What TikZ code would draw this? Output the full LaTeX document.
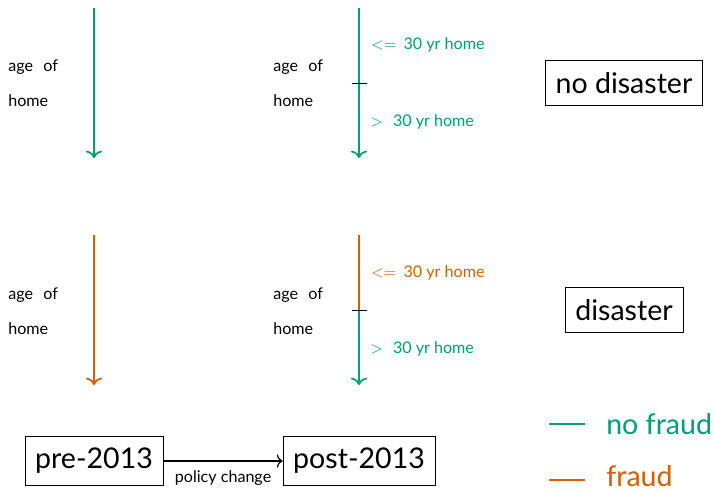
\documentclass[tikz,border=0pt]{standalone}
\usepackage{fontspec}
\setmainfont{Lato}
\usetikzlibrary{positioning, arrows.meta}

\definecolor{nofraud}{HTML}{009E73}
\definecolor{fraud}{HTML}{D55E00}

\newcommand{\bigtext}{\fontsize{19.5}{23}\selectfont}
\newcommand{\smalltext}{\fontsize{11}{13}\selectfont}

\tikzset{
  box/.style={draw, font=\bigtext, inner xsep=7pt, inner ysep=8pt},
  lbl/.style={anchor=base west, inner sep=0pt, font=\smalltext},
  flow/.style={very thick, -{To[length=5pt, width=11pt]}},
  tick/.style={thin, black},
  key/.style={anchor=west, inner sep=0pt, font=\bigtext},
}

\begin{document}
\begin{tikzpicture}[x=0.024cm, y=-0.024cm]
  \useasboundingbox (0,0) rectangle (713,491);

  % no disaster: before the change
  \coordinate (nbTop) at (94,8);
  \coordinate (nbEnd) at (94,158);
  \draw[flow, nofraud] (nbTop) -- (nbEnd);
  \node[lbl] (nbAge) at (8,72) {age\hspace{7pt}of};
  \node[lbl] (nbHome) at (8,107) {home};

  % no disaster: after the change, split at 30 years
  \coordinate (naTop) at (359,8);
  \coordinate (naMid) at (359,83);
  \coordinate (naEnd) at (359,158);
  \draw[flow, nofraud] (naTop) -- (naEnd);
  \draw[tick] (naMid) +(-7,0) -- +(8,0);
  \node[lbl] (naAge) at (273,72) {age\hspace{7pt}of};
  \node[lbl] (naHome) at (273,107) {home};
  \node[lbl, text=nofraud] (naYoung) at (371,50) {$<=$\hspace{5pt}30 yr home};
  \node[lbl, text=nofraud] (naOld) at (370,126) {$>$\hspace{7pt}30 yr home};

  \node[box] (nodis) at (624,83) {no disaster};

  % disaster: before the change
  \coordinate (dbTop) at (94,235);
  \coordinate (dbEnd) at (94,385);
  \draw[flow, fraud] (dbTop) -- (dbEnd);
  \node[lbl] (dbAge) at (8,299) {age\hspace{7pt}of};
  \node[lbl] (dbHome) at (8,334) {home};

  % disaster: after the change, only young homes are fraud
  \coordinate (daTop) at (359,235);
  \coordinate (daMid) at (359,310);
  \coordinate (daEnd) at (359,385);
  \draw[very thick, fraud] (daTop) -- (daMid);
  \draw[flow, nofraud] (daMid) -- (daEnd);
  \draw[tick] (daMid) +(-7,0) -- +(8,0);
  \node[lbl] (daAge) at (273,299) {age\hspace{7pt}of};
  \node[lbl] (daHome) at (273,334) {home};
  \node[lbl, text=fraud] (daYoung) at (371,277) {$<=$\hspace{5pt}30 yr home};
  \node[lbl, text=nofraud] (daOld) at (370,353) {$>$\hspace{7pt}30 yr home};

  \node[box] (dis) at (624,310) {disaster};

  % time line
  \node[box] (pre) at (94,461) {pre-2013};
  \node[box] (post) at (359,461) {post-2013};
  \draw[thick, -{To[length=4pt, width=9pt]}] (pre) -- node[below=3pt, font=\smalltext] {policy change} (post);

  % legend
  \coordinate (kA) at (549,424);
  \coordinate (kB) at (585,424);
  \draw[thick, nofraud] (kA) -- (kB);
  \node[key, text=nofraud] (knf) at (606,424) {no fraud};
  \coordinate (kC) at (549,480);
  \coordinate (kD) at (585,480);
  \draw[thick, fraud] (kC) -- (kD);
  \node[key, text=fraud] (kf) at (606,476) {fraud};
\end{tikzpicture}
\end{document}
